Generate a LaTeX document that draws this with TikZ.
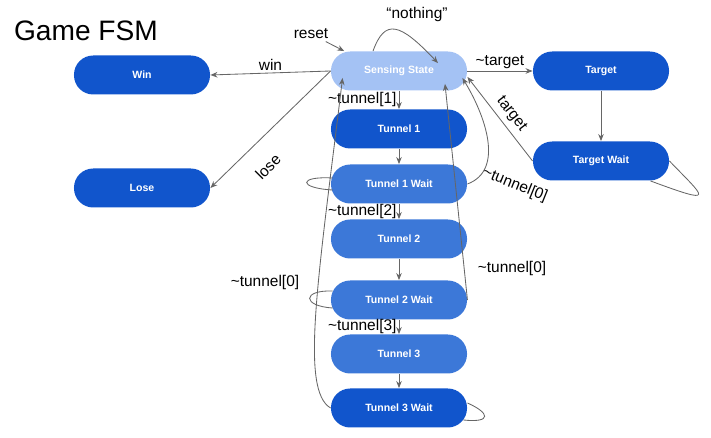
\documentclass[tikz,border=0pt]{standalone}
\usepackage{fontspec}
\setmainfont{Liberation Sans}
\usetikzlibrary{arrows.meta,calc}

\definecolor{stdark}{HTML}{1155CC}
\definecolor{stmid}{HTML}{3C78D8}
\definecolor{stlight}{HTML}{A4C2F4}
\definecolor{wire}{HTML}{666666}

\begin{document}
\begin{tikzpicture}[x=0.025cm, y=0.025cm, line width=0.6pt, >={Stealth[length=5pt,width=4pt]}]
		\useasboundingbox (0,0) rectangle (711,438);
		\node[anchor=base west, font=\fontsize{20}{24}\selectfont] (title) at(9,397) {Game FSM};
		\begin{scope}[every node/.style={rectangle, rounded corners=0.48cm, minimum width=3.4cm, minimum height=0.975cm, fill=stdark, text=white, font=\bfseries\fontsize{7.5}{9}\selectfont}]
			\node (win) at(142,363) {Win};
			\node (lose) at(142,250) {Lose};
			\node[fill=stlight] (sense) at(399,367) {Sensing State};
			\node (tgt) at(601,367) {Target};
			\node (tgtw) at(601,277) {Target Wait};
			\node (t1) at(399,309) {Tunnel 1};
			\node[fill=stmid] (t1w) at(399,254) {Tunnel 1 Wait};
			\node[fill=stmid] (t2) at(399,199) {Tunnel 2};
			\node[fill=stmid] (t2w) at(399,138) {Tunnel 2 Wait};
			\node[fill=stmid] (t3) at(399,84) {Tunnel 3};
			\node (t3w) at(399,30) {Tunnel 3 Wait};
		\end{scope}
		\begin{scope}[color=wire, every node/.style={text=black, inner sep=1.5pt, font=\fontsize{11}{13}\selectfont}]
			\node (reset) at(311,404) {reset};
			\node (nothing) at(417,423) {“nothing”};
			\path[->] (reset) edge (sense.160);
			\draw[->] ($(sense.north)+(-26,0)$) .. controls (385,420) and (400,415) .. ($(sense.north)+(39,-12)$);
			\path[->] (sense.west) edge node [above] {win} (win.east);
			\path[->] (sense.west) edge (lose.east);
			\node[rotate=45] (loselbl) at(268,271) {lose};
			\path[->] (sense.east) edge node [above] {\textasciitilde target} (tgt.west);
			\path[->] (tgt) edge (tgtw);
			\path[->] (tgtw.west) edge node [pos=0.47, sloped, above=2pt] {target} (sense.355);
			\draw (tgtw.east) .. controls (705,240) and (718,232) .. ($(tgtw.south east)+(-19,0)$);
			% tunnel chain
			\path[->] (sense) edge node [left] {\textasciitilde tunnel[1]} (t1);
			\path[->] (t1) edge (t1w);
			\path[->] (t1w) edge node [left] {\textasciitilde tunnel[2]} (t2);
			\path[->] (t2) edge (t2w);
			\path[->] (t2w) edge node [left] {\textasciitilde tunnel[3]} (t3);
			\path[->] (t3) edge (t3w);
			% waiting loops
			\draw ($(t1w.west)+(2,6)$) .. controls (298,262) and (298,250) .. ($(t1w.west)+(2,-6)$);
			\draw ($(t2w.west)+(2,9)$) .. controls (302,148) and (302,132) .. ($(t2w.west)+(2,-8)$);
			\draw ($(t3w.east)+(0,5)$) .. controls (490,25) and (492,15) .. ($(t3w.east)+(-4,-12)$);
			% back to sensing
			\draw[->] (t1w.east) .. controls (505,268) and (485,323) .. ($(sense.east)+(-5,-7)$);
			\node[rotate=-22] (back1) at(515,253) {\textasciitilde tunnel[0]};
			\path[->] (t2w.east) edge ($(sense.south)+(46,7)$);
			\node (back2) at(512,169) {\textasciitilde tunnel[0]};
			\draw[->] (t3w.west) .. controls (300,48) and (318,158) .. ($(sense.west)+(12,-7)$);
			\node (back3) at(265,155) {\textasciitilde tunnel[0]};
		\end{scope}
	\end{tikzpicture}
\end{document}
